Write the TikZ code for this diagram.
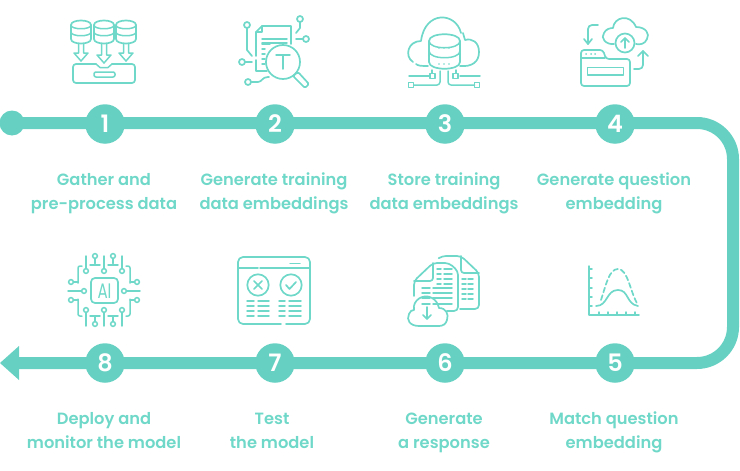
\documentclass[tikz,border=0pt]{standalone}
\usepackage{fontspec}
\setmainfont{Poppins}[BoldFont={Poppins SemiBold}]
\definecolor{tealband}{HTML}{66D1C2}
\definecolor{tealicon}{HTML}{6FD8C8}
\newcommand{\labelline}[1]{\strut #1}
\tikzset{
    trackline/.style={line width=12pt, draw=tealband, rounded corners=36pt},
    stepdot/.style={circle, fill=tealband, minimum size=39.5pt, inner sep=0pt, text=white, font=\bfseries\fontsize{24}{24}\selectfont},
    steplabel/.style={align=center, inner sep=0pt, text=tealicon, font=\bfseries\fontsize{16.3}{24}\selectfont},
    icon/.style={line width=1.7pt, draw=tealicon, line cap=round, line join=round},
    iconthin/.style={icon, line width=1.5pt},
}
\begin{document}
\begin{tikzpicture}[x=1pt, y=-1pt]
    \useasboundingbox (0,0) rectangle (740,471);

    % Track from the start dot round the right side to the arrow
    \coordinate (start) at (12,123);
    \coordinate (turntop) at (733,123);
    \coordinate (turnbottom) at (733,363);
    \coordinate (tail) at (15,363);
    \coordinate (tip) at (0,363);
    \coordinate (headtop) at (19,346);
    \coordinate (headbottom) at (19,380);
    \draw[trackline] (start) -- (turntop) -- (turnbottom) -- (tail);
    \fill[tealband] (start) circle (12.5);
    \fill[tealband] (tip) -- (headtop) -- (headbottom) -- cycle;

    % Numbered steps
    \foreach \n/\x/\y in {1/105/124, 2/275/124, 3/445/124, 4/615/124, 5/615/363, 6/445/363, 7/275/363, 8/105/363}
        \node[stepdot] (step\n) at (\x,\y) {\n};

    % Labels
    \node[steplabel] (label1) at (104,193) {\labelline{Gather and}\\\labelline{pre-process data}};
    \node[steplabel] (label2) at (274,193) {\labelline{Generate training}\\\labelline{data embeddings}};
    \node[steplabel] (label3) at (444,193) {\labelline{Store training}\\\labelline{data embeddings}};
    \node[steplabel] (label4) at (614,193) {\labelline{Generate question}\\\labelline{embedding}};
    \node[steplabel] (label5) at (614,432) {\labelline{Match question}\\\labelline{embedding}};
    \node[steplabel] (label6) at (444,432) {\labelline{Generate}\\\labelline{a response}};
    \node[steplabel] (label7) at (272,432) {\labelline{Test}\\\labelline{the model}};
    \node[steplabel] (label8) at (104,432) {\labelline{Deploy and}\\\labelline{monitor the model}};

    % Icon 1: three databases over a tray
    \foreach \x/\h in {81/61, 104/63, 126/61} {
        \draw[icon] (\x-10,25) .. controls (\x-10,19) and (\x+10,19) .. (\x+10,25) -- (\x+10,39) .. controls (\x+10,45) and (\x-10,45) .. (\x-10,39) -- cycle;
        \draw[iconthin] (\x-10,25) .. controls (\x-10,30) and (\x+10,30) .. (\x+10,25);
        \draw[iconthin] (\x-10,32) .. controls (\x-10,37) and (\x+10,37) .. (\x+10,32);
        \draw[iconthin] (\x-2.5,44) -- (\x-2.5,\h-8) -- (\x-7,\h-8) -- (\x,\h) -- (\x+7,\h-8) -- (\x+2.5,\h-8) -- (\x+2.5,44);
    }
    \draw[icon, rounded corners=3pt] (96,64) -- (73,64) -- (73,83) -- (135,83) -- (135,64) -- (112,64);
    \draw[iconthin] (96,64) -- (100,67.5) -- (108,67.5) -- (112,64);
    \draw[iconthin, rounded corners=2pt] (94,72) rectangle (115,77);

    % Icon 2: document under a lens with circuit lines
    \draw[icon] (282,26) -- (262,26) -- (256,32) -- (256,56);
    \draw[icon] (262,26) -- (262,32) -- (256,32);
    \draw[icon] (282,26) -- (291,26) -- (291,44);
    \draw[icon] (256,60) -- (256,71) -- (267,71);
    \foreach \y in {39,43}
        \draw[iconthin] (262,\y) -- (287,\y);
    \foreach \y in {49,54,59,64}
        \draw[iconthin] (262,\y) -- (265,\y);
    \draw[iconthin] (262,44) -- (270,44);
    \draw[icon] (283,62) circle (17);
    \draw[iconthin] (276,55) -- (290,55) (283,55) -- (283,69);
    \draw[icon, rounded corners=1.5pt] (293,76) -- (298,72) -- (309,84) -- (305,88) -- cycle;
    \foreach \x/\y in {247/25, 242/62, 248/82, 300/19, 306/39}
        \draw[icon] (\x,\y) circle (3);
    \draw[icon] (247,28) -- (247,50) -- (252,56);
    \draw[icon] (245,62) -- (252,62);
    \draw[icon] (251,82) -- (258,82) .. controls (262,82) and (262,77) .. (268,77) -- (269,77);
    \draw[icon] (300,22) -- (300,28) -- (296,33);
    \draw[icon] (303,39) -- (296,39);

    % Icon 3: cloud with database and wires
    \draw[icon] (461,33) .. controls (456,12) and (425,10) .. (421,41) .. controls (408,41) and (404,56) .. (413,62);
    \draw[icon] (416,64) .. controls (418,66) and (422,66) .. (428,66);
    \draw[icon] (460,66) .. controls (472,67) and (479,62) .. (479,52) .. controls (479,42) and (472,38) .. (465,40) -- (463,33);
    \draw[icon] (429,41) .. controls (429,32) and (460,32) .. (460,41) -- (460,62) .. controls (460,71) and (429,71) .. (429,62) -- cycle;
    \draw[iconthin] (429,41) .. controls (429,50) and (460,50) .. (460,41);
    \draw[iconthin] (429,51) .. controls (429,60) and (460,60) .. (460,51);
    \foreach \x in {439,444,449} {
        \fill[tealicon] (\x,48) circle (0.8);
        \fill[tealicon] (\x,64) circle (0.8);
    }
    \draw[iconthin] (409,76) -- (429,76) (480,76) -- (460,76);
    \draw[iconthin] (432,70) -- (432,73) (456,70) -- (456,73);
    \draw[iconthin] (430,73.5) rectangle (435,78.5);
    \draw[iconthin] (453,73.5) rectangle (458,78.5);
    \draw[iconthin] (408.5,82.5) rectangle (413.5,87.5);
    \draw[iconthin] (474.5,82.5) rectangle (479.5,87.5);
    \draw[iconthin, rounded corners=3pt] (413.5,85) -- (440,85) -- (440,71);
    \draw[iconthin, rounded corners=3pt] (474.5,85) -- (448,85) -- (448,71);

    % Icon 4: folder, cloud and two arrows
    \draw[icon, rounded corners=3pt] (581,59) -- (581,86) -- (630,86) -- (630,59) -- (606,59) -- (603,50) -- (581,50) -- cycle;
    \draw[iconthin] (581,58) -- (605,58);
    \draw[iconthin] (587.5,67.5) rectangle (623.5,75);
    \foreach \x in {586,591,595}
        \fill[tealicon] (\x,54) circle (1);
    \draw[icon] (614,44) .. controls (606,45) and (600,38) .. (604,33) .. controls (606,29) and (610,28) .. (613,28) .. controls (614,17) and (630,13) .. (636,27) .. controls (646,27) and (650,34) .. (647,39) .. controls (645,44) and (640,45) .. (636,44);
    \draw[icon] (625,43) circle (9.5);
    \draw[icon] (625,48) -- (625,38) (621,42) -- (625,38) -- (629,42);
    \draw[icon, rounded corners=4pt] (598,25) -- (588,25) -- (588,44);
    \draw[icon] (584,39) -- (588,44) -- (592,39);
    \draw[icon, rounded corners=4pt] (634,69) -- (643,69) -- (643,51);
    \draw[icon] (638,56) -- (643,51) -- (648,56);

    % Icon 5: axes with two bell curves
    \draw[iconthin] (589,266) -- (589,315) -- (639,315);
    \foreach \y in {269,278,288,297,306}
        \draw[iconthin] (589,\y) -- (592,\y);
    \foreach \x in {599,608,617,626,635}
        \draw[iconthin] (\x,315) -- (\x,312);
    \draw[icon] (596,306) .. controls (608,306) and (606,290) .. (618,290) .. controls (629,290) and (626,304) .. (638,306);
    \draw[icon, dash pattern=on 5pt off 3pt] (601,300) .. controls (606,285) and (609,269) .. (618,269) .. controls (628,269) and (630,292) .. (638,305);

    % Icon 6: two pages and a cloud
    \draw[icon, rounded corners=4pt] (439,258) -- (442,256) -- (461,256) -- (479,273) -- (479,309) -- (460,309);
    \draw[icon, rounded corners=3pt] (461,256) -- (461,273) -- (479,273);
    \draw[icon, rounded corners=4pt] (414,296) -- (414,281) -- (433,263) -- (449,263) -- (458,271) -- (458,311) -- (447,311);
    \draw[icon, rounded corners=3pt] (433,263) -- (433,281) -- (414,281);
    \foreach \y in {269,274,279,284}
        \draw[iconthin] (437,\y) -- (441,\y) (444,\y) -- (452,\y);
    \foreach \y in {288,293,298,304}
        \draw[iconthin] (422,\y) -- (430,\y) (433,\y) -- (452,\y);
    \foreach \y in {279,284,289,294,299}
        \draw[iconthin] (462,\y) -- (466,\y) (468,\y) -- (473,\y);
    \draw[icon] (419,326) .. controls (410,326) and (406,320) .. (409,314) .. controls (410,311) and (412,310) .. (414,310) .. controls (412,300) and (424,293) .. (432,298) .. controls (436,300) and (438,304) .. (439,308) .. controls (446,308) and (449,314) .. (447,320) .. controls (446,324) and (443,326) .. (439,326) -- cycle;
    \draw[icon] (427,307) -- (427,319) (423,315) -- (427,319) -- (431,315);

    % Icon 7: window with cross and check
    \draw[icon, rounded corners=5pt] (281,324) -- (238,324) -- (238,257) -- (310,257) -- (310,324) -- (286,324);
    \draw[iconthin] (239,268) -- (258,268) (260,268) -- (309,268);
    \draw[iconthin] (290,263.5) -- (300,263.5);
    \draw[icon] (258,285) circle (10.7);
    \draw[icon] (291,285) circle (10.7);
    \draw[icon] (254,281) -- (262,289) (262,281) -- (254,289);
    \draw[icon] (286,285) -- (289.5,289) -- (296,282);
    \foreach \y in {301,306,311,316} {
        \draw[iconthin] (247,\y) -- (254,\y) (258,\y) -- (269,\y);
        \draw[iconthin] (279,\y) -- (285,\y) (289,\y) -- (301,\y);
    }

    % Icon 8: chip with pins
    \draw[icon, rounded corners=4pt] (91,278) rectangle (118,303);
    \node[text=tealicon, inner sep=0pt, xscale=0.72, font=\fontsize{21}{21}\selectfont] (chiptext) at (104.5,291) {AI};
    \foreach \x in {86,104,122} {
        \draw[iconthin] (\x,271) circle (2.4);
        \draw[iconthin] (\x,310) circle (2.4);
    }
    \draw[iconthin] (104,268.5) -- (104,256) (104,312.5) -- (104,326);
    \draw[iconthin] (86,268.5) -- (86,256) (122,268.5) -- (122,256);
    \draw[iconthin] (86,312.5) -- (86,326) (122,312.5) -- (122,326);
    \foreach \x in {95,113} {
        \draw[iconthin] (\x,256) circle (2.4);
        \draw[iconthin] (\x,263.5) -- (\x,258.5);
        \draw[iconthin] (\x-5,265) -- (\x+5,265);
        \draw[iconthin] (\x,324) circle (2.4);
        \draw[iconthin] (\x,316.5) -- (\x,321.5);
        \draw[iconthin] (\x-5,316) -- (\x+5,316);
    }
    \foreach \y in {282,300} {
        \draw[iconthin] (71,\y) circle (2.4);
        \draw[iconthin] (137,\y) circle (2.4);
        \draw[iconthin] (73.5,\y) -- (78,\y);
        \draw[iconthin] (134.5,\y) -- (130,\y);
    }
    \draw[iconthin] (84,291) circle (2.4) (124,291) circle (2.4);
    \draw[iconthin] (68,291) -- (81.5,291) (126.5,291) -- (140,291);
    \draw[iconthin, rounded corners=2pt] (78,283) -- (78,266) -- (82,266);
    \draw[iconthin, rounded corners=2pt] (130,283) -- (130,266) -- (126,266);
    \draw[iconthin, rounded corners=2pt] (78,299) -- (78,316) -- (82,316);
    \draw[iconthin, rounded corners=2pt] (130,299) -- (130,316) -- (126,316);
\end{tikzpicture}
\end{document}
